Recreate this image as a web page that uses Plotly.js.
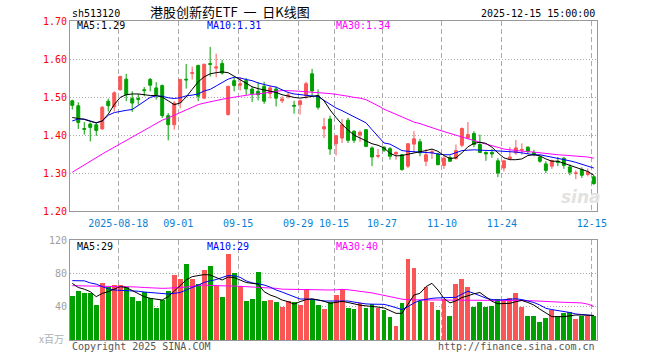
<!DOCTYPE html>
<html><head><meta charset="utf-8">
<script src="https://cdn.plot.ly/plotly-3.0.1.min.js"></script>
<style>html,body{margin:0;padding:0;background:#fff}#chart{width:660px;height:360px}</style>
</head><body><div id="chart"></div>
<script>
// ---- data ----
const dates = [
'2025-08-06','2025-08-07','2025-08-08','2025-08-11','2025-08-12','2025-08-13','2025-08-14','2025-08-15','2025-08-18','2025-08-19',
'2025-08-20','2025-08-21','2025-08-22','2025-08-25','2025-08-26','2025-08-27','2025-08-28','2025-08-29','2025-09-01','2025-09-02',
'2025-09-03','2025-09-04','2025-09-05','2025-09-08','2025-09-09','2025-09-10','2025-09-11','2025-09-12','2025-09-15','2025-09-16',
'2025-09-17','2025-09-18','2025-09-19','2025-09-22','2025-09-23','2025-09-24','2025-09-25','2025-09-26','2025-09-29','2025-09-30',
'2025-10-09','2025-10-10','2025-10-13','2025-10-14','2025-10-15','2025-10-16','2025-10-17','2025-10-20','2025-10-21','2025-10-22',
'2025-10-23','2025-10-24','2025-10-27','2025-10-28','2025-10-29','2025-10-30','2025-10-31','2025-11-03','2025-11-04','2025-11-05',
'2025-11-06','2025-11-07','2025-11-10','2025-11-11','2025-11-12','2025-11-13','2025-11-14','2025-11-17','2025-11-18','2025-11-19',
'2025-11-20','2025-11-21','2025-11-24','2025-11-25','2025-11-26','2025-11-27','2025-11-28','2025-12-01','2025-12-02','2025-12-03',
'2025-12-04','2025-12-05','2025-12-08','2025-12-09','2025-12-10','2025-12-11','2025-12-12','2025-12-15'];

const openP = [
1.490,1.477,1.417,1.429,1.427,1.416,1.489,1.474,1.519,1.547,
1.496,1.496,1.519,1.546,1.524,1.530,1.451,1.427,1.486,1.547,
1.562,1.583,1.497,1.588,1.576,1.588,1.454,1.543,1.531,1.543,
1.521,1.515,1.528,1.509,1.521,1.490,1.502,1.478,1.480,1.503,
1.561,1.503,1.416,1.442,1.377,1.392,1.439,1.410,1.400,1.414,
1.366,1.344,1.368,1.364,1.350,1.348,1.318,1.376,1.382,1.331,
1.353,1.350,1.320,1.341,1.338,1.373,1.392,1.404,1.375,1.354,
1.354,1.332,1.313,1.338,1.353,1.360,1.368,1.354,1.342,1.324,
1.318,1.331,1.339,1.316,1.299,1.309,1.296,1.290];
const closeP = [
1.478,1.433,1.415,1.420,1.412,1.473,1.477,1.511,1.554,1.506,
1.484,1.494,1.517,1.531,1.506,1.451,1.427,1.484,1.546,1.545,
1.564,1.502,1.586,1.586,1.579,1.563,1.528,1.530,1.535,1.521,
1.509,1.506,1.489,1.524,1.497,1.495,1.505,1.476,1.490,1.535,
1.516,1.473,1.422,1.363,1.398,1.427,1.386,1.386,1.407,1.370,
1.342,1.346,1.360,1.344,1.354,1.309,1.377,1.390,1.353,1.348,
1.356,1.322,1.339,1.331,1.359,1.417,1.401,1.375,1.354,1.350,
1.350,1.300,1.332,1.342,1.366,1.362,1.357,1.350,1.331,1.307,
1.333,1.328,1.320,1.302,1.300,1.294,1.303,1.272];
const highP = [
1.493,1.486,1.434,1.433,1.432,1.476,1.496,1.515,1.556,1.561,
1.515,1.508,1.526,1.550,1.539,1.533,1.458,1.489,1.548,1.587,
1.580,1.585,1.588,1.632,1.614,1.598,1.530,1.550,1.552,1.550,
1.528,1.539,1.540,1.530,1.528,1.502,1.511,1.490,1.493,1.540,
1.574,1.520,1.445,1.451,1.400,1.442,1.445,1.412,1.412,1.416,
1.370,1.363,1.370,1.368,1.357,1.350,1.379,1.410,1.390,1.363,
1.362,1.353,1.344,1.346,1.375,1.420,1.434,1.410,1.401,1.357,
1.363,1.339,1.335,1.368,1.387,1.378,1.370,1.361,1.346,1.331,
1.335,1.342,1.342,1.322,1.307,1.315,1.312,1.294];
const lowP = [
1.467,1.416,1.401,1.383,1.398,1.414,1.462,1.462,1.517,1.489,
1.461,1.480,1.502,1.515,1.493,1.445,1.386,1.414,1.470,1.522,
1.546,1.489,1.494,1.554,1.552,1.559,1.451,1.515,1.517,1.506,
1.487,1.491,1.482,1.496,1.475,1.484,1.496,1.456,1.454,1.495,
1.502,1.467,1.392,1.348,1.346,1.379,1.379,1.379,1.382,1.368,
1.318,1.339,1.355,1.335,1.335,1.306,1.313,1.355,1.344,1.318,
1.337,1.320,1.311,1.329,1.335,1.368,1.389,1.368,1.353,1.332,
1.340,1.289,1.304,1.335,1.348,1.348,1.350,1.344,1.327,1.300,
1.311,1.318,1.311,1.294,1.284,1.287,1.291,1.269];

const ma5 = [
1.446,1.444,1.441,1.436,1.432,1.437,1.455,1.480,1.499,1.506,
1.508,1.508,1.506,1.504,1.504,1.500,1.490,1.480,1.484,1.500,
1.520,1.540,1.553,1.561,1.564,1.566,1.564,1.555,1.546,1.538,
1.527,1.522,1.519,1.517,1.512,1.506,1.502,1.499,1.497,1.500,
1.503,1.504,1.490,1.466,1.446,1.428,1.413,1.400,1.392,1.384,
1.377,1.373,1.366,1.352,1.345,1.346,1.350,1.354,1.356,1.359,
1.363,1.357,1.346,1.338,1.340,1.353,1.369,1.378,1.381,1.378,
1.368,1.353,1.340,1.335,1.335,1.337,1.346,1.348,1.345,1.337,
1.331,1.331,1.326,1.321,1.315,1.310,1.304,1.294];
const ma10 = [
1.437,1.442,1.442,1.436,1.432,1.437,1.452,1.459,1.463,1.465,
1.467,1.477,1.489,1.499,1.503,1.502,1.498,1.496,1.498,1.503,
1.505,1.508,1.516,1.520,1.529,1.539,1.547,1.552,1.550,1.546,
1.543,1.537,1.532,1.529,1.526,1.519,1.512,1.508,1.506,1.504,
1.503,1.501,1.491,1.480,1.471,1.464,1.456,1.448,1.440,1.432,
1.414,1.395,1.379,1.376,1.368,1.359,1.357,1.356,1.355,1.354,
1.353,1.350,1.348,1.348,1.353,1.359,1.360,1.361,1.360,1.360,
1.359,1.358,1.357,1.357,1.355,1.353,1.350,1.348,1.348,1.345,
1.341,1.340,1.337,1.332,1.328,1.324,1.318,1.313];
const ma30 = [
1.302,1.312,1.321,1.331,1.340,1.350,1.359,1.368,1.378,1.387,
1.396,1.405,1.414,1.423,1.432,1.439,1.445,1.452,1.460,1.468,
1.474,1.480,1.484,1.488,1.491,1.494,1.497,1.500,1.503,1.505,
1.507,1.508,1.511,1.514,1.515,1.517,1.517,1.516,1.515,1.514,
1.513,1.512,1.511,1.509,1.507,1.505,1.502,1.499,1.497,1.493,
1.486,1.477,1.468,1.461,1.454,1.447,1.440,1.434,1.430,1.424,
1.419,1.414,1.409,1.404,1.399,1.395,1.389,1.385,1.381,1.376,
1.372,1.367,1.363,1.361,1.359,1.357,1.356,1.355,1.353,1.352,
1.350,1.348,1.347,1.346,1.345,1.343,1.342,1.339];

const volume = [
52.8,58.8,56.4,56.4,42.0,68.4,63.6,66.0,66.0,63.6,
51.6,46.8,57.6,50.4,38.4,48.0,58.8,78.0,73.2,91.2,
73.2,67.2,84.0,88.8,64.8,51.6,103.2,80.4,64.8,46.8,
49.2,81.6,46.8,48.0,45.6,39.6,46.8,45.6,42.0,61.2,
49.2,42.0,37.2,45.2,53.6,60.8,38.8,37.2,44.4,38.8,
43.6,38.8,36.4,28.0,17.2,44.8,97.2,86.8,47.2,63.6,
45.6,36.4,49.6,29.2,67.6,73.2,63.6,40.0,46.0,40.0,
41.2,49.2,48.4,50.0,56.4,40.0,29.2,29.2,21.6,26.8,
36.4,28.8,32.8,34.0,25.6,29.2,29.2,29.2];
const volMa5 = [
68,63,61,58,52,56,58,61,64,63,
59,56,52,50,48.8,48,52,59,66,72,
76,77.6,78.5,78,75,72,75.5,75,72,69,
68,67,58,54,51.5,48,46,43,46,48.5,
49.5,48,46.5,44,45,46.3,45,43,41.8,41,
40.5,39.5,38.5,35,32,32,43,54,56,64,
68,60,50,44.5,47,51,53,55.5,57,52,
46.5,43.5,43.5,44,46,47.5,45,42,37,32,
28,28,28,29,30,30,29.5,29.4];
const volMa10 = [
71.2,71.2,71,68.5,67,64,61.5,60,59.8,59.5,
59,58.5,57.6,56.8,56,55.4,55.2,56,57,60,
63.2,66,69,71,72.5,75,77.4,77,75.2,71,
68.5,67.5,66,63.5,60,57.5,55,52,49.2,49.2,
49,48,46.8,46.8,47.5,47.5,46.8,45.5,44.3,43.3,
43,42.9,42.8,41,38.5,36.5,40,44.5,47.5,49,
50,50.5,50.8,51,51.2,55,58.5,56,53,50.3,
48.6,48,48.4,49.2,49.5,48.5,47,45,42,38,
36.5,35.5,34.7,33,31.2,30.5,29.7,29.4];
const volMa30 = [
65.2,65,64.5,64.2,64,64,64,64,64,64,
64,63.5,63,62.5,62,62,62.2,62.5,63,63.5,
64.5,65.5,66,65.5,65,64.8,64.8,64.8,64.5,64.2,
64,63.5,63.2,63,62,61,60.8,60.5,60.5,60.4,
60.3,60.2,60.1,60,60.2,60.8,60.3,59.5,58.5,57.8,
56.5,55,53.5,51.5,50,49,48.3,48,48,48,
48,48,48,48,47.8,47.5,47.3,47.2,47.5,47.8,
48,48,48,47.8,47.5,47.2,47.2,47,46.5,46,
45.5,45.2,45.2,45,44.8,44.5,43,40.4];

const tickDates = ['2025-08-18','2025-09-01','2025-09-15','2025-09-29','2025-10-15','2025-10-27','2025-11-10','2025-11-24','2025-12-15'];
const tickText  = ['2025-08-18','09-01','09-15','09-29','10-15','10-27','11-10','11-24','12-15'];
const priceTicks = [1.2,1.3,1.4,1.5,1.6,1.7];
const volTicks = [40,80,120];

// ---- drawing ----
const RED='#fb5656', GREEN='#00a000', GRID='#aaaaaa', FRAME='#999999';
const MONO='DejaVu Sans Mono';
const CJK='Noto Sans CJK SC';
const L=70, R=597.5, T=21, B=340;
const px = x => (x-L)/(R-L);
const py = y => (B-y)/(B-T);
const idx = dates.map((d,i)=>i);
const tickPos = tickDates.map(d => dates.indexOf(d) - 0.33);
const volColors = idx.map(i => closeP[i] >= openP[i] ? RED : GREEN);
const last = a => a[a.length-1];

const traces = [
  {type:'candlestick', x:idx, open:openP, high:highP, low:lowP, close:closeP,
   xaxis:'x', yaxis:'y', whiskerwidth:0, hoverinfo:'skip', showlegend:false,
   increasing:{line:{color:RED,width:1}, fillcolor:RED},
   decreasing:{line:{color:GREEN,width:1}, fillcolor:GREEN}},
  {type:'scatter', mode:'lines', x:idx, y:ma30, xaxis:'x', yaxis:'y', line:{color:'#ff00ff',width:1}, hoverinfo:'skip'},
  {type:'scatter', mode:'lines', x:idx, y:ma10, xaxis:'x', yaxis:'y', line:{color:'#0000ff',width:1}, hoverinfo:'skip'},
  {type:'scatter', mode:'lines', x:idx, y:ma5, xaxis:'x', yaxis:'y', line:{color:'#000000',width:1}, hoverinfo:'skip'},
  {type:'bar', x:idx, y:volume, xaxis:'x2', yaxis:'y2', width:0.82, marker:{color:volColors, line:{width:0}}, hoverinfo:'skip'},
  {type:'scatter', mode:'lines', x:idx, y:volMa30, xaxis:'x2', yaxis:'y2', line:{color:'#ff00ff',width:1}, hoverinfo:'skip'},
  {type:'scatter', mode:'lines', x:idx, y:volMa10, xaxis:'x2', yaxis:'y2', line:{color:'#0000ff',width:1}, hoverinfo:'skip'},
  {type:'scatter', mode:'lines', x:idx, y:volMa5, xaxis:'x2', yaxis:'y2', line:{color:'#000000',width:1}, hoverinfo:'skip'}
];

const xCommon = {range:[-0.38, 87.53], tickvals:tickPos, showgrid:true, gridcolor:GRID, griddash:'5px,3px', gridwidth:1,
  showline:true, mirror:true, linecolor:FRAME, linewidth:1, ticks:'', zeroline:false, fixedrange:true};

function ann(text, x, y, color, anchor, size, family, extra){
  return Object.assign({text:text, xref:'paper', yref:'paper', x:px(x), y:py(y), xanchor:anchor, yanchor:'middle',
    showarrow:false, font:{family:family||MONO, size:size||10, color:color}}, extra||{});
}

const annotations = [
  ann('sh513120', 70, 13, '#000', 'left', 10),
  ann('港股创新药ETF\u00a0\u00a0一\u00a0\u00a0日K线图', 230, 12, '#000', 'center', 13, CJK),
  ann('2025-12-15 15:00:00', 597, 13, '#000', 'right', 10),
  ann('MA5:' + last(ma5).toFixed(2), 75, 26, '#000', 'left', 10),
  ann('MA10:' + last(ma10).toFixed(2), 205, 26, '#0000ff', 'left', 10),
  ann('MA30:' + last(ma30).toFixed(2), 334.5, 26, '#ff00ff', 'left', 10),
  ann('MA5:' + Math.round(last(volMa5)), 75, 246, '#000', 'left', 10),
  ann('MA10:' + Math.round(last(volMa10)), 205, 246, '#0000ff', 'left', 10),
  ann('MA30:' + Math.round(last(volMa30)), 334.5, 246, '#ff00ff', 'left', 10),
  ann('x百万', 66, 338, '#b0b0b0', 'right', 10, CJK),
  ann('Copyright 2025 SINA.COM', 70, 346, '#555', 'left', 10),
  ann('http://finance.sina.com.cn', 597, 346, '#555', 'right', 10),
  ann('sina', 581, 197, '#e2e2e2', 'center', 17, 'DejaVu Sans', {font:{family:'DejaVu Sans', size:17, color:'#e2e2e2', style:'italic', weight:'bold'}})
];

const layout = {
  width:660, height:360, margin:{l:L, r:660-R, t:T, b:360-B, pad:0},
  paper_bgcolor:'#fff', plot_bgcolor:'#fff', showlegend:false, boxgap:0.3, bargap:0,
  xaxis: Object.assign({}, xCommon, {anchor:'y', ticktext:tickText, rangeslider:{visible:false}, ticklabelstandoff:3,
    tickfont:{family:MONO, size:10, color:'#0b7fd4'}}),
  xaxis2: Object.assign({}, xCommon, {anchor:'y2', matches:'x', showticklabels:false}),
  yaxis: {domain:[py(211), 1], range:[1.2,1.7], tickvals:priceTicks, tickformat:'.2f', showgrid:true, gridcolor:GRID,
    griddash:'1px,2px', showline:true, mirror:true, linecolor:FRAME, ticks:'', zeroline:false, fixedrange:true,
    tickfont:{family:MONO, size:10, color:'#ff0000'}},
  yaxis2: {domain:[0, py(240)], range:[0,120], tickvals:volTicks, showgrid:true, gridcolor:GRID,
    griddash:'1px,2px', showline:true, mirror:true, linecolor:FRAME, ticks:'', zeroline:false, fixedrange:true,
    tickfont:{family:MONO, size:10, color:'#a0a0a0'}},
  annotations: annotations
};

Plotly.newPlot('chart', traces, layout, {staticPlot:true, displayModeBar:false});
</script>
</body></html>
